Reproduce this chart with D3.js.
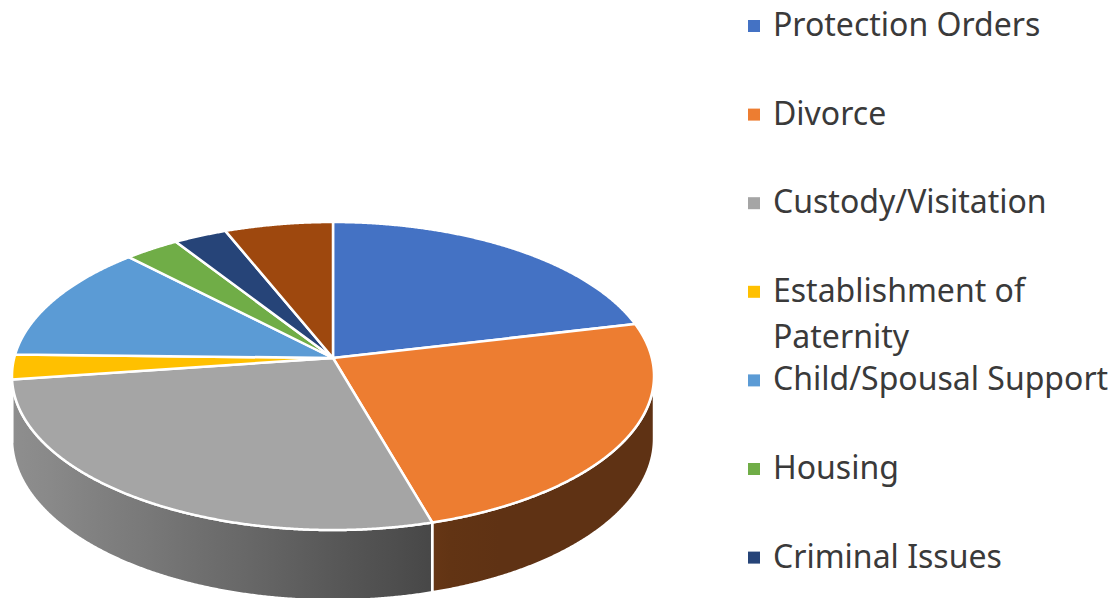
<!DOCTYPE html>
<html>
<head>
<meta charset="utf-8">
<script src="https://cdn.jsdelivr.net/npm/d3@7"></script>
<style>
  html, body { margin: 0; padding: 0; background: #ffffff; }
  svg { display: block; }
</style>
</head>
<body>
<svg id="chart" width="1112" height="598"></svg>
<script>
// ---- data ----
const categories = [
  "Protection Orders",
  "Divorce",
  "Custody/Visitation",
  "Establishment of Paternity",
  "Child/Spousal Support",
  "Housing",
  "Criminal Issues",
  "Other"
];
const values = [21.3, 24.2, 27.2, 2.6, 12.4, 3.1, 3.0, 6.1];
const colors = ["#4472c4", "#ed7d31", "#a5a5a5", "#ffc000", "#5b9bd5", "#70ad47", "#264478", "#9e480e"];

// ---- layout ----
const W = 1112, H = 598;
const svg = d3.select("#chart");
const defs = svg.append("defs");

const cx = 333, cy = 358;      // apex of the pie (projected centre)
const A = 151.9, B = 318.8;    // vertical / horizontal radius factors
const k = 0.117;               // perspective strength
const depth = 62;              // thickness of the disc

function proj(theta, r, z) {
  const u = r * Math.sin(theta), v = r * Math.cos(theta);
  const w = 1 + k * v;
  return [cx + B * u / w, cy - A * v / w + z / w];
}

const pie = d3.pie().sort(null).value(d => d).startAngle(0).endAngle(2 * Math.PI);
const arcs = pie(values).map((a, i) => ({...a, i}));

const step = Math.PI / 720;
function rim(a0, a1, z) {
  const pts = [];
  const n = Math.max(2, Math.ceil((a1 - a0) / step));
  for (let j = 0; j <= n; j++) pts.push(proj(a0 + (a1 - a0) * j / n, 1, z));
  return pts;
}
const line = d3.line();

// side shading as a function of screen x
const shadeX = d3.scaleLinear().domain([12, 433]).range([0.87, 0.43]);
function shade(x) { return Math.max(0.40, Math.min(0.87, shadeX(x))); }

arcs.forEach(a => {
  const g = defs.append("linearGradient")
    .attr("id", "side" + a.i)
    .attr("gradientUnits", "userSpaceOnUse")
    .attr("x1", 0).attr("x2", 700).attr("y1", 0).attr("y2", 0);
  const base = d3.rgb(colors[a.i]);
  d3.range(0, 701, 50).forEach(x => {
    const f = shade(x);
    g.append("stop")
      .attr("offset", x / 700)
      .attr("stop-color", d3.rgb(base.r * f, base.g * f, base.b * f).formatHex());
  });
});

// visible part of the outer wall
const visLo = Math.acos(-k), visHi = 2 * Math.PI - Math.acos(-k);

const sideG = svg.append("g");
arcs.forEach(a => {
  const a0 = Math.max(a.startAngle, visLo), a1 = Math.min(a.endAngle, visHi);
  if (a1 <= a0) return;
  const top = rim(a0, a1, 0);
  const bot = rim(a0, a1, depth).reverse();
  sideG.append("path")
    .attr("d", line(top.concat(bot)) + "Z")
    .attr("fill", `url(#side${a.i})`)
    .attr("stroke", "#ffffff")
    .attr("stroke-width", 2.5)
    .attr("stroke-linejoin", "round");
});

const topG = svg.append("g");
arcs.forEach(a => {
  const pts = [[cx, cy]].concat(rim(a.startAngle, a.endAngle, 0));
  topG.append("path")
    .attr("d", line(pts) + "Z")
    .attr("fill", colors[a.i])
    .attr("stroke", "#ffffff")
    .attr("stroke-width", 2.5)
    .attr("stroke-linejoin", "round");
});

// ---- legend ----
const legendX = 748, textX = 773, firstBase = 36, slot = 88.6, lineH = 46, maxW = 345;
const fontSize = 32;
const legend = svg.append("g")
  .attr("font-family", "'Noto Sans', 'Open Sans', sans-serif")
  .attr("font-size", fontSize)
  .attr("fill", "#3a3a3a");

categories.forEach((name, i) => {
  const base = firstBase + i * slot;
  if (base - 20 > H) return;
  legend.append("rect")
    .attr("x", legendX).attr("y", base - 16)
    .attr("width", 12).attr("height", 12)
    .attr("fill", colors[i]);
  const t = legend.append("text").attr("x", textX).attr("y", base);
  // word wrap
  const words = name.split(" ");
  let lineWords = [], lineNo = 0;
  let ts = t.append("tspan").attr("x", textX).attr("y", base);
  words.forEach(wd => {
    lineWords.push(wd);
    ts.text(lineWords.join(" "));
    if (ts.node().getComputedTextLength() > maxW && lineWords.length > 1) {
      lineWords.pop();
      ts.text(lineWords.join(" "));
      lineWords = [wd];
      lineNo++;
      ts = t.append("tspan").attr("x", textX).attr("y", base + lineNo * lineH).text(wd);
    }
  });
});
</script>
</body>
</html>
